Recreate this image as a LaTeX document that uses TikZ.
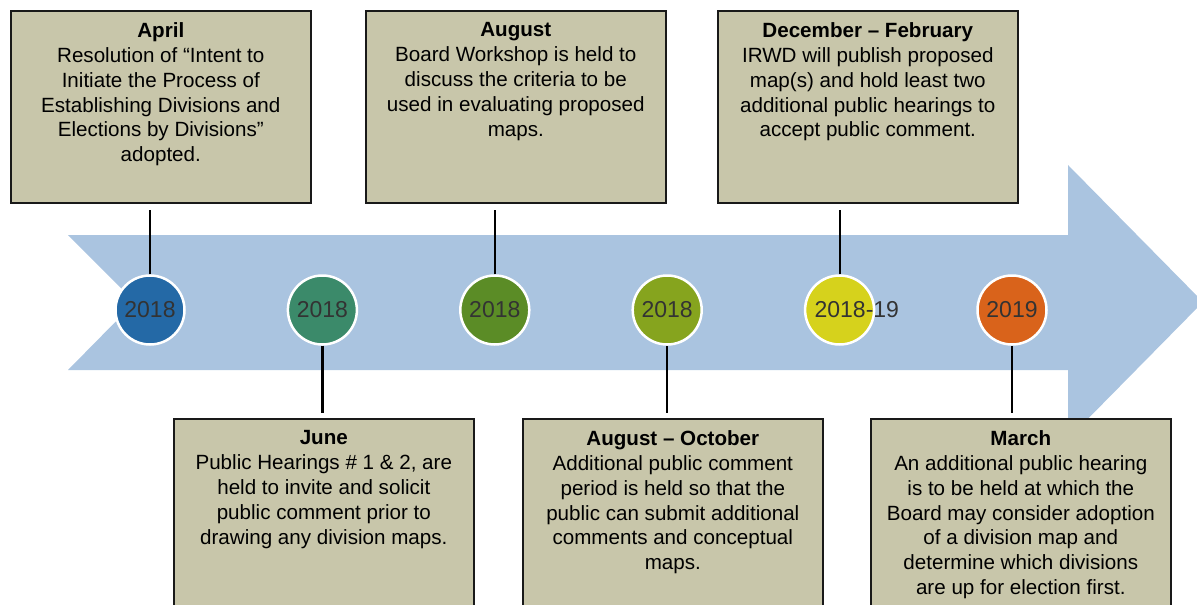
\documentclass[tikz,border=0pt]{standalone}
\usepackage{fontspec}
\setmainfont{Liberation Sans}
\usetikzlibrary{positioning}
\definecolor{bandblue}{RGB}{170,196,224}
\definecolor{boxfill}{RGB}{200,198,170}
\definecolor{yearA}{RGB}{36,105,166}
\definecolor{yearB}{RGB}{59,138,106}
\definecolor{yearC}{RGB}{91,140,38}
\definecolor{yearD}{RGB}{134,164,30}
\definecolor{yearE}{RGB}{214,210,28}
\definecolor{yearF}{RGB}{217,99,27}
\newcommand{\evtext}[2]{\parbox[t][#1][t]{288pt}{\centering #2}}
\begin{document}
\begin{tikzpicture}[x=1pt, y=-1pt,
    year/.style = {circle, draw=white, line width=2.5pt, minimum size=69pt, inner sep=0pt,
                   font=\fontsize{23}{23}\selectfont, text=black!80},
    event/.style = {draw=black!90, line width=1.6pt, fill=boxfill, anchor=north west,
                    inner xsep=6pt, inner ysep=12pt, font=\fontsize{20.6}{24.8}\selectfont},
    stem/.style = {draw=black, line width=2.2pt}]
    \clip (0,0) rectangle (1197,605);

    % the band
    \fill[bandblue] (68,235) -- (1068,235) -- (1068,165) -- (1203,302) -- (1068,439)
                    -- (1068,370) -- (68,370) -- (135,302) -- cycle;

    % events above the band
    \node[event] (apr) at (10,10) {\evtext{168pt}{\textbf{April}\\
        Resolution of “Intent to\\ Initiate the Process of\\ Establishing Divisions and\\
        Elections by Divisions”\\ adopted.}};
    \node[event] (aug) at (365,10) {\evtext{168pt}{\textbf{August}\\
        Board Workshop is held to\\ discuss the criteria to be\\ used in evaluating proposed\\ maps.}};
    \node[event] (dec) at (717,10) {\evtext{168pt}{\textbf{December – February}\\
        IRWD will publish proposed\\ map(s) and hold least two\\ additional public hearings to\\
        accept public comment.}};

    % events below the band
    \node[event] (jun) at (173,418) {\evtext{200pt}{\textbf{June}\\
        Public Hearings \# 1 \& 2, are\\ held to invite and solicit\\ public comment prior to\\
        drawing any division maps.}};
    \node[event] (augoct) at (522,418) {\evtext{200pt}{\textbf{August – October}\\
        Additional public comment\\ period is held so that the\\ public can submit additional\\
        comments and conceptual\\ maps.}};
    \node[event] (mar) at (870,418) {\evtext{200pt}{\textbf{March}\\
        An additional public hearing\\ is to be held at which the\\ Board may consider adoption\\
        of a division map and\\ determine which divisions\\ are up for election first.}};

    % years
    \node[year, fill=yearA] (c1) at (150,310) {2018};
    \node[year, fill=yearB] (c2) [right of=c1, node distance=172.4pt] {2018};
    \node[year, fill=yearC] (c3) [right of=c2, node distance=172.4pt] {2018};
    \node[year, fill=yearD] (c4) [right of=c3, node distance=172.4pt] {2018};
    \node[year, fill=yearE] (c5) [right of=c4, node distance=172.4pt] {\makebox[50pt][l]{2018-19}};
    \node[year, fill=yearF] (c6) [right of=c5, node distance=172.4pt] {2019};

    \draw[stem] (c1) -- ([yshift=-6pt]c1 |- apr.south);
    \draw[stem] (c3) -- ([yshift=-6pt]c3 |- aug.south);
    \draw[stem] (c5) -- ([yshift=-6pt]c5 |- dec.south);
    \draw[stem] (c2) -- ([yshift=5pt]c2 |- jun.north);
    \draw[stem] (c4) -- ([yshift=5pt]c4 |- augoct.north);
    \draw[stem] (c6) -- ([yshift=5pt]c6 |- mar.north);
\end{tikzpicture}
\end{document}
